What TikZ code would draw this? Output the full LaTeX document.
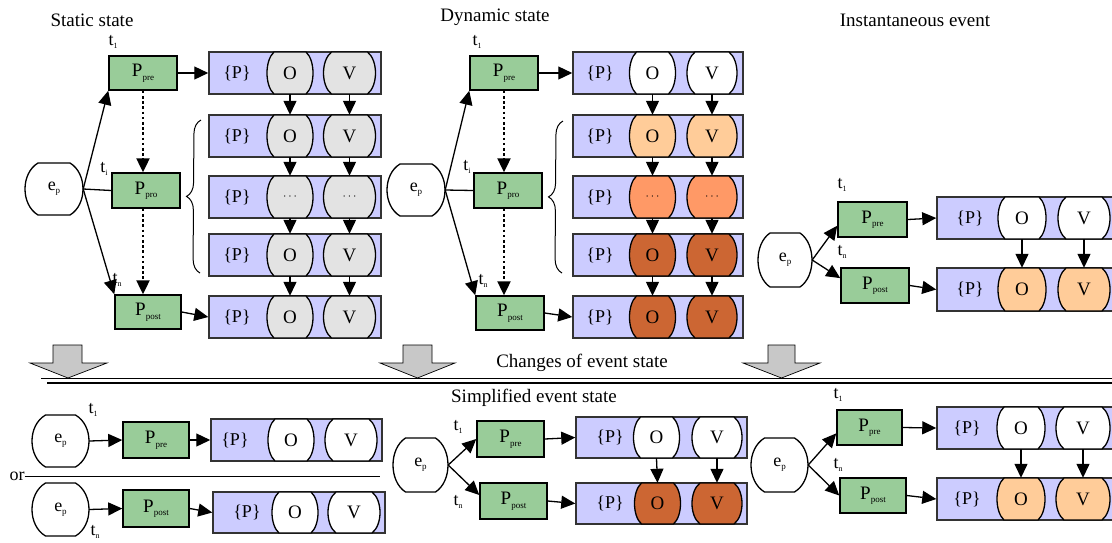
\documentclass[tikz,border=0pt]{standalone}
\usepackage{fontspec}
\setmainfont{Liberation Serif}
\usetikzlibrary{arrows.meta,decorations.pathreplacing}
\definecolor{pblue}{HTML}{CCCCFF}
\definecolor{pgreen}{HTML}{99CC99}
\definecolor{cgray}{HTML}{E3E3E3}
\definecolor{clight}{HTML}{FFCC99}
\definecolor{cmid}{HTML}{FF9966}
\definecolor{cdark}{HTML}{CC6633}
\definecolor{boxline}{HTML}{333333}
\definecolor{arrgray}{HTML}{C8C8C8}
\newcommand\tsub[1]{t\raisebox{-3pt}{\fontsize{8}{8}\selectfont #1}}
\newcommand\esub{{\fontsize{18}{18}\selectfont e\raisebox{-3pt}{\fontsize{9}{9}\selectfont p}}}
\newcommand\psub[1]{P\raisebox{-3.5pt}{\fontsize{9}{9}\selectfont #1}}
\newcommand\dts{{\fontsize{12}{12}\selectfont$\cdots$}}
\newcommand\mkblob[8]{%
  \pgfmathsetmacro\blobA{(4*#4-#6)/3}%
  \pgfmathsetmacro\blobK{0.6*#5}%
  \filldraw[blobline,fill=#7,shift={(#2,#3)}] (-#6,-#5) -- (#6,-#5) .. controls (\blobA,-\blobK) and (\blobA,\blobK) .. (#6,#5) -- (-#6,#5) .. controls (-\blobA,\blobK) and (-\blobA,-\blobK) .. cycle;%
  \node[blobtext,minimum width=2*#4,minimum height=2*#5] (#1) at (#2,#3) {#8};%
}
\tikzset{
  blobline/.style={draw=black,line width=1.3pt},
  blobtext/.style={inner sep=0pt,font=\fontsize{19}{19}\selectfont},
  pbox/.style={draw=black,line width=1.5pt,fill=pgreen,inner sep=0pt,font=\fontsize{19}{19}\selectfont},
  bluebox/.style={draw=boxline,line width=1.5pt,fill=pblue,inner sep=0pt,minimum height=42},
  ptext/.style={inner sep=0pt,font=\fontsize{18}{18}\selectfont},
  title/.style={inner sep=0pt,font=\fontsize{19}{19}\selectfont},
  tlab/.style={inner sep=0pt,font=\fontsize{18}{18}\selectfont},
  conn/.style={line width=1.3pt,-{Triangle[length=14pt,width=13pt]}},
  plainline/.style={line width=1.3pt},
  dotconn/.style={line width=2.4pt,dash pattern=on 2.6pt off 2.6pt,-{Triangle[length=14pt,width=13pt]}},
  bracestyle/.style={line width=1pt,decorate,decoration={brace,amplitude=14pt}},
  bigarrow/.style={draw=black,line width=0.7pt,fill=arrgray},
}
\begin{document}
\begin{tikzpicture}[x=1pt,y=-1pt]
\useasboundingbox (0,0) rectangle (1112,542);

%% ---------------- Static state ----------------
\node[title] (ttlA) at (92,20) {Static state};
\foreach \n/\y/\c/\o/\v in {1/73/cgray/O/V,2/136/cgray/O/V,3/197/cgray/\dts/\dts,4/255/cgray/O/V,5/317/cgray/O/V}{
  \node[bluebox,minimum width=172] (BA\n) at (295,\y) {};
  \node[ptext] (PA\n) at (237,\y) {\{P\}};
  \mkblob{OA\n}{290}{\y}{23}{21}{16}{\c}{\o}
  \mkblob{VA\n}{349.5}{\y}{26}{21}{18}{\c}{\v}
}
\foreach \r/\s in {1/2,2/3,3/4,4/5}{
  \draw[conn] (OA\r.south) -- (OA\s.north);
  \draw[conn] (VA\r.south) -- (VA\s.north);
}
\node[pbox,minimum width=68,minimum height=34] (PpreA) at (143,73) {\psub{pre}};
\node[pbox,minimum width=68,minimum height=35] (PproA) at (146,190.5) {\psub{pro}};
\node[pbox,minimum width=66,minimum height=34] (PpostA) at (148,312) {\psub{post}};
\mkblob{epA}{54}{189}{29}{26}{16}{white}{\esub}
\node[tlab] (t1A) at (113,42) {\tsub{1}};
\node[tlab] (tiA) at (104,169) {\tsub{i}};
\node[tlab] (tnA) at (117,280) {\tsub{n}};
\draw[conn] (epA.east) -- (PpreA.south west);
\draw[plainline] (epA.east) -- (PproA.west);
\draw[conn] (epA.east) -- (PpostA.north west);
\draw[dotconn] (PpreA.south) -- (PpreA.south |- PproA.north);
\draw[dotconn] (PproA.south -| PpreA.south) -- (PpreA.south |- PpostA.north);
\draw[conn] (PpreA.east) -- (BA1.west);
\draw[conn] (PpostA.east) -- (BA5.west);
\coordinate (brA1) at (200,273);
\coordinate (brA2) at (201,120);
\draw[bracestyle] (brA1) -- (brA2);

%% ---------------- Dynamic state ----------------
\node[title] (ttlB) at (495,17) {Dynamic state};
\foreach \n/\y/\c/\o/\v in {1/73/white/O/V,2/136/clight/O/V,3/197/cmid/\dts/\dts,4/255/cdark/O/V,5/317/cdark/O/V}{
  \node[bluebox,minimum width=170] (BB\n) at (658,\y) {};
  \node[ptext] (PB\n) at (600,\y) {\{P\}};
  \mkblob{OB\n}{652.5}{\y}{23}{21}{16}{\c}{\o}
  \mkblob{VB\n}{712}{\y}{25}{21}{17}{\c}{\v}
}
\foreach \r/\s in {1/2,2/3,3/4,4/5}{
  \draw[conn] (OB\r.south) -- (OB\s.north);
  \draw[conn] (VB\r.south) -- (VB\s.north);
}
\node[pbox,minimum width=68,minimum height=34] (PpreB) at (504,73) {\psub{pre}};
\node[pbox,minimum width=68,minimum height=35] (PproB) at (508,190.5) {\psub{pro}};
\node[pbox,minimum width=68,minimum height=34] (PpostB) at (510,313) {\psub{post}};
\mkblob{epB}{416}{190}{29}{26}{16}{white}{\esub}
\node[tlab] (t1B) at (477,42) {\tsub{1}};
\node[tlab] (tiB) at (467,167) {\tsub{i}};
\node[tlab] (tnB) at (483,281) {\tsub{n}};
\draw[conn] (epB.east) -- (PpreB.south west);
\draw[plainline] (epB.east) -- (PproB.west);
\draw[conn] (epB.east) -- (PpostB.north west);
\draw[dotconn] (PpreB.south) -- (PpreB.south |- PproB.north);
\draw[dotconn] (PproB.south -| PpreB.south) -- (PpreB.south |- PpostB.north);
\draw[conn] (PpreB.east) -- (BB1.west);
\draw[conn] (PpostB.east) -- (BB5.west);
\coordinate (brB1) at (562,273);
\coordinate (brB2) at (563,121);
\draw[bracestyle] (brB1) -- (brB2);

%% ---------------- Instantaneous event ----------------
\node[title] (ttlC) at (915,20) {Instantaneous event};
\node[bluebox,minimum width=188,minimum height=42] (BC1) at (1031,218) {};
\node[bluebox,minimum width=188,minimum height=43] (BC2) at (1031,289.5) {};
\node[ptext] (PC1) at (970,218) {\{P\}};
\node[ptext] (PC2) at (970,289.5) {\{P\}};
\mkblob{OC1}{1022}{218}{24}{21}{17}{white}{O}
\mkblob{VC1}{1084}{218}{26}{21}{18}{white}{V}
\mkblob{OC2}{1022}{289.5}{24}{21.5}{17}{clight}{O}
\mkblob{VC2}{1084}{289.5}{26}{21.5}{18}{clight}{V}
\draw[conn] (OC1.south) -- (OC2.north);
\draw[conn] (VC1.south) -- (VC2.north);
\node[pbox,minimum width=69,minimum height=35] (PpreC) at (872.5,219.5) {\psub{pre}};
\node[pbox,minimum width=68,minimum height=35] (PpostC) at (875,285.5) {\psub{post}};
\mkblob{epC}{785}{260}{27}{27}{15}{white}{\esub}
\node[tlab] (t1C) at (842,185) {\tsub{1}};
\node[tlab] (tnC) at (842,252) {\tsub{n}};
\draw[conn] (epC.east) -- (PpreC.190);
\draw[conn] (epC.east) -- (PpostC.168);
\draw[conn] (PpreC.east) -- (BC1.west);
\draw[conn] (PpostC.east) -- (BC2.west);

%% ---------------- Divider ----------------
\draw[bigarrow] (53,345) -- (82,345) -- (82,363) -- (107,363) -- (68,378) -- (30,363) -- (53,363) -- cycle;
\draw[bigarrow] (403,345) -- (432,345) -- (432,363) -- (455,363) -- (417.5,378) -- (380,363) -- (403,363) -- cycle;
\draw[bigarrow] (768,345) -- (795,345) -- (795,363) -- (820,363) -- (781.5,378) -- (743,363) -- (768,363) -- cycle;
\node[title] (chg) at (582,363) {Changes of event state};
\draw[line width=0.9pt] (41,378) -- (1112,378);
\draw[line width=2pt] (47,382.5) -- (1112,382.5);
\node[title] (simp) at (534,398) {Simplified event state};

%% ---------------- Bottom left ----------------
\node[bluebox,minimum width=171,minimum height=42] (BD) at (296.5,440) {};
\node[ptext] (PD) at (235,440) {\{P\}};
\mkblob{OD}{291}{440}{23}{21}{16}{white}{O}
\mkblob{VD}{351}{440}{26}{21}{18}{white}{V}
\node[pbox,minimum width=66,minimum height=36] (PpreD) at (156,440) {\psub{pre}};
\mkblob{epD}{60.5}{441}{28.5}{26}{15}{white}{\esub}
\node[tlab] (t1D) at (93,410) {\tsub{1}};
\draw[conn] (epD.east) -- (PpreD.west);
\draw[conn] (PpreD.east) -- (BD.west);

\node[tlab] (orl) at (17,476) {or};
\coordinate (orend) at (380,476);
\draw[line width=1pt] (orl.east) -- (orend);

\node[bluebox,minimum width=172,minimum height=41] (BE) at (299,512.5) {};
\node[ptext] (PE) at (247,512.5) {\{P\}};
\mkblob{OE}{295}{512.5}{23}{20.5}{16}{white}{O}
\mkblob{VE}{354}{512.5}{26}{20.5}{18}{white}{V}
\node[pbox,minimum width=66,minimum height=37] (PpostE) at (156,508.5) {\psub{post}};
\mkblob{epE}{60.5}{509.5}{28.5}{26.5}{15}{white}{\esub}
\node[tlab] (tnE) at (95,532) {\tsub{n}};
\draw[conn] (epE.east) -- (PpostE.west);
\draw[conn] (PpostE.east) -- (BE.west);

%% ---------------- Bottom middle ----------------
\node[bluebox,minimum width=171,minimum height=41] (BF1) at (661.5,437.5) {};
\node[bluebox,minimum width=171,minimum height=41] (BF2) at (661.5,503.5) {};
\node[ptext] (PF1) at (610,437.5) {\{P\}};
\node[ptext] (PF2) at (610,503.5) {\{P\}};
\mkblob{OF1}{656.5}{437.5}{23}{20.5}{16}{white}{O}
\mkblob{VF1}{717}{437.5}{25}{20.5}{17}{white}{V}
\mkblob{OF2}{657.5}{503.5}{23}{20.5}{16}{cdark}{O}
\mkblob{VF2}{717}{503.5}{25}{20.5}{17}{cdark}{V}
\draw[conn] (OF1.south) -- (OF2.north);
\draw[conn] (VF1.south) -- (VF2.north);
\node[pbox,minimum width=67,minimum height=36] (PpreF) at (510.5,439) {\psub{pre}};
\node[pbox,minimum width=67,minimum height=36] (PpostF) at (513.5,501) {\psub{post}};
\mkblob{epF}{420.5}{465}{27.5}{27}{15}{white}{\esub}
\node[tlab] (t1F) at (458,427) {\tsub{1}};
\node[tlab] (tnF) at (458,502) {\tsub{n}};
\draw[conn] (epF.east) -- (PpreF.west);
\draw[conn] (epF.east) -- (PpostF.170);
\draw[conn] (PpreF.east) -- (BF1.west);
\draw[conn] (PpostF.east) -- (BF2.west);

%% ---------------- Bottom right ----------------
\node[bluebox,minimum width=188,minimum height=42] (BG1) at (1031,428) {};
\node[bluebox,minimum width=188,minimum height=42] (BG2) at (1031,499) {};
\node[ptext] (PG1) at (967,428) {\{P\}};
\node[ptext] (PG2) at (967,499) {\{P\}};
\mkblob{OG1}{1021}{428}{24}{21}{17}{white}{O}
\mkblob{VG1}{1083}{428}{27}{21}{19}{white}{V}
\mkblob{OG2}{1021}{499}{24}{21}{17}{clight}{O}
\mkblob{VG2}{1083}{499}{27}{21}{19}{clight}{V}
\draw[conn] (OG1.south) -- (OG2.north);
\draw[conn] (VG1.south) -- (VG2.north);
\node[pbox,minimum width=65,minimum height=35] (PpreG) at (869.5,427.5) {\psub{pre}};
\node[pbox,minimum width=66,minimum height=35] (PpostG) at (873,495.5) {\psub{post}};
\mkblob{epG}{779.5}{465}{28.5}{27}{15}{white}{\esub}
\node[tlab] (t1G) at (838,395) {\tsub{1}};
\node[tlab] (tnG) at (838,465) {\tsub{n}};
\draw[conn] (epG.east) -- (PpreG.190);
\draw[conn] (epG.east) -- (PpostG.west);
\draw[conn] (PpreG.east) -- (BG1.west);
\draw[conn] (PpostG.east) -- (BG2.west);
\end{tikzpicture}
\end{document}
